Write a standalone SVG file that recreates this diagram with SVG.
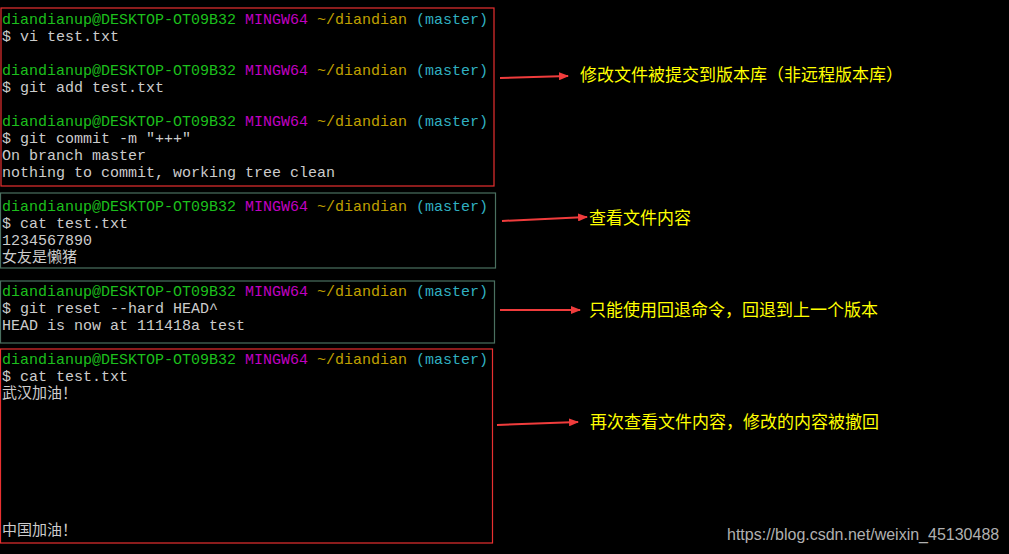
<svg xmlns="http://www.w3.org/2000/svg" width="1009" height="554" viewBox="0 0 1009 554">
<defs><marker id="ah" markerWidth="10" markerHeight="8" refX="9" refY="4" orient="auto" markerUnits="userSpaceOnUse"><path d="M0,0 L10,4 L0,8 Z" fill="#f03c3c"/></marker></defs>
<style>
.t{font-family:"Liberation Mono","Noto Sans CJK SC",monospace;font-size:15px;fill:#cccccc}
.g{fill:#1cbf1c}.m{fill:#c000c0}.y{fill:#c0a000}.c{fill:#30b0c0}
.n{font-family:"Noto Sans CJK SC",sans-serif;font-size:17px;fill:#ffff00}
.rb{fill:none;stroke:#e83030;stroke-width:1.2}.gb{fill:none;stroke:#4a7060;stroke-width:1.2}
.a{stroke:#f03c3c;stroke-width:2;fill:none}
</style>
<rect width="1009" height="554" fill="#000"/>
<g id="box1"><rect class="rb" x="1" y="8" width="493" height="178"/>
<text class="t" x="2" y="24"><tspan class="g">diandianup@DESKTOP-OT09B32 </tspan><tspan class="m">MINGW64 </tspan><tspan class="y">~/diandian </tspan><tspan class="c">(master)</tspan></text>
<text class="t" x="2" y="41">$ vi test.txt</text>
<text class="t" x="2" y="75"><tspan class="g">diandianup@DESKTOP-OT09B32 </tspan><tspan class="m">MINGW64 </tspan><tspan class="y">~/diandian </tspan><tspan class="c">(master)</tspan></text>
<text class="t" x="2" y="92">$ git add test.txt</text>
<text class="t" x="2" y="126"><tspan class="g">diandianup@DESKTOP-OT09B32 </tspan><tspan class="m">MINGW64 </tspan><tspan class="y">~/diandian </tspan><tspan class="c">(master)</tspan></text>
<text class="t" x="2" y="143">$ git commit -m "+++"</text>
<text class="t" x="2" y="160">On branch master</text>
<text class="t" x="2" y="177">nothing to commit, working tree clean</text></g>
<g id="box2"><rect class="gb" x="0.5" y="193" width="495" height="75"/>
<text class="t" x="2" y="211"><tspan class="g">diandianup@DESKTOP-OT09B32 </tspan><tspan class="m">MINGW64 </tspan><tspan class="y">~/diandian </tspan><tspan class="c">(master)</tspan></text>
<text class="t" x="2" y="228">$ cat test.txt</text>
<text class="t" x="2" y="245">1234567890</text>
<text class="t" x="2" y="262">女友是懒猪</text></g>
<g id="box3"><rect class="gb" x="0.5" y="281" width="494" height="62"/>
<text class="t" x="2" y="296"><tspan class="g">diandianup@DESKTOP-OT09B32 </tspan><tspan class="m">MINGW64 </tspan><tspan class="y">~/diandian </tspan><tspan class="c">(master)</tspan></text>
<text class="t" x="2" y="313">$ git reset --hard HEAD^</text>
<text class="t" x="2" y="330">HEAD is now at 111418a test</text></g>
<g id="box4"><rect class="rb" x="0.5" y="349" width="492" height="194"/>
<text class="t" x="2" y="364"><tspan class="g">diandianup@DESKTOP-OT09B32 </tspan><tspan class="m">MINGW64 </tspan><tspan class="y">~/diandian </tspan><tspan class="c">(master)</tspan></text>
<text class="t" x="2" y="381">$ cat test.txt</text>
<text class="t" x="2" y="398">武汉加油！</text>
<text class="t" x="2" y="535">中国加油！</text></g>
<g id="connectors">
<line class="a" x1="500" y1="78" x2="568" y2="76" marker-end="url(#ah)"/>
<line class="a" x1="502" y1="221" x2="587" y2="217" marker-end="url(#ah)"/>
<line class="a" x1="500" y1="310" x2="580" y2="310" marker-end="url(#ah)"/>
<line class="a" x1="497" y1="425" x2="578" y2="422" marker-end="url(#ah)"/>
</g>
<g id="labels">
<text class="n" x="580" y="81">修改文件被提交到版本库（非远程版本库）</text>
<text class="n" x="589" y="224">查看文件内容</text>
<text class="n" x="589" y="316">只能使用回退命令，回退到上一个版本</text>
<text class="n" x="590" y="428">再次查看文件内容，修改的内容被撤回</text>
</g>
<text x="727" y="540" font-family="Liberation Sans,sans-serif" font-size="16" fill="#b0b0b0">https://blog.csdn.net/weixin_45130488</text>
</svg>
